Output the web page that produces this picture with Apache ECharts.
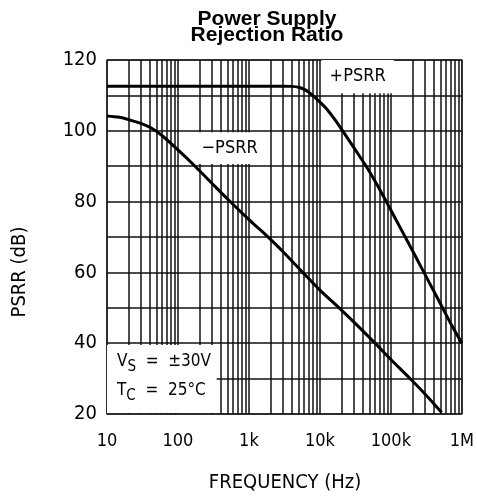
<!DOCTYPE html>
<html>
<head>
<meta charset="utf-8">
<script src="https://cdn.jsdelivr.net/npm/echarts@6/dist/echarts.min.js"></script>
<style>
  html, body { margin: 0; padding: 0; background: #fff; }
  #chart { width: 477px; height: 497px; }
</style>
</head>
<body>
<div id="chart"></div>
<script>
// values (frequency in Hz, PSRR in dB)
const plusFreq = [10, 100, 1000, 3000, 4000, 5000, 6300, 7900, 10000, 12800, 15800, 20900, 31600, 45700, 63000, 85100, 120000, 162000, 220000, 292000, 400000, 525000, 700000, 1000000];
const plusPsrr = [112.6, 112.6, 112.6, 112.6, 112.55, 112.3, 111.5, 110, 108.1, 105.9, 103.5, 100, 94.6, 89.7, 85.0, 80.2, 74.6, 69.7, 64.7, 60, 54.8, 50.3, 45.5, 40];

const minusFreq = [10, 15, 21, 30, 42.7, 60, 100, 174, 300, 525, 1000, 1450, 1945, 3000, 5715, 10000, 19770, 35000, 61240, 100000, 190500, 300000, 519000];
const minusPsrr = [104.2, 103.8, 103.05, 102.1, 100.7, 98.6, 94.6, 90, 85.2, 80.3, 74.9, 72.0, 69.6, 65.9, 60, 55.0, 49.5, 44.7, 39.8, 35.4, 29.8, 25.7, 20.4];

const freqTicks = [10, 100, 1000, 10000, 100000, 1000000];
const freqTickLabels = ['10', '100', '1k', '10k', '100k', '1M'];
const dbLabelStep = 20;

const font = "'DejaVu Sans Condensed', 'DejaVu Sans', sans-serif";

// minor log grid lines: 2..9 of each decade
const minorLines = [];
for (let i = 0; i < freqTicks.length - 1; i++) {
  for (let m = 2; m <= 9; m++) minorLines.push({ xAxis: freqTicks[i] * m });
}

const chart = echarts.init(document.getElementById('chart'));

const option = {
  animation: false,
  backgroundColor: '#fff',
  grid: {
    left: 107, right: 14, top: 60, bottom: 83,
    show: true, borderColor: '#666', borderWidth: 1.5
  },
  graphic: [
    {
      type: 'text', x: 267, y: 11,
      style: {
        text: 'Power Supply\nRejection Ratio',
        font: 'bold 21px "Liberation Sans", Arial, sans-serif',
        fill: '#000', align: 'center', verticalAlign: 'top', lineHeight: 16
      }
    },
    {
      type: 'text', x: 20, y: 272, rotation: Math.PI / 2,
      style: {
        text: 'PSRR (dB)', font: '20px ' + font, fill: '#000',
        align: 'center', verticalAlign: 'middle'
      }
    },
    {
      type: 'text', x: 285, y: 483,
      style: {
        text: 'FREQUENCY (Hz)', font: '20px ' + font, fill: '#000',
        align: 'center', verticalAlign: 'middle'
      }
    }
  ],
  xAxis: {
    type: 'log', logBase: 10, min: 10, max: 1000000,
    axisLine: { show: false },
    axisTick: { show: false },
    axisLabel: {
      margin: 18, fontSize: 18, fontFamily: font, color: '#000',
      formatter: v => {
        const i = freqTicks.findIndex(t => Math.abs(t - v) / t < 1e-6);
        return i >= 0 ? freqTickLabels[i] : '';
      }
    },
    splitLine: { show: true, lineStyle: { color: '#111', width: 1.5 } }
  },
  yAxis: {
    type: 'value', min: 20, max: 120, interval: 10,
    axisLine: { show: false },
    axisTick: { show: false },
    axisLabel: {
      margin: 10, fontSize: 20, fontFamily: font, color: '#000',
      formatter: v => (v % dbLabelStep === 0 ? String(v) : '')
    },
    splitLine: { show: true, lineStyle: { color: '#111', width: 1.5 } }
  },
  series: [
    {
      // minor frequency grid
      type: 'line', data: [], silent: true,
      markLine: {
        silent: true, symbol: 'none', z: 0,
        label: { show: false },
        lineStyle: { color: '#111', width: 1.5, type: 'solid' },
        data: minorLines
      }
    },
    {
      // white label boxes over the grid
      type: 'line', data: [], silent: true,
      markArea: {
        silent: true, z: 2,
        itemStyle: { color: '#fff' },
        label: { color: '#000', fontFamily: font },
        data: [
          [{ name: '+PSRR', coord: [10500, 110.6],
             label: { position: 'inside', fontSize: 18 } },
           { coord: [110000, 120] }],
          [{ name: '\u2212PSRR', coord: [190, 90.6],
             label: { position: 'inside', fontSize: 18 } },
           { coord: [1500, 99.6] }],
          [{ name: 'cond', coord: [10, 20.3],
             label: {
               position: 'insideLeft', distance: 10, offset: [0, -3],
               formatter: '{t|V}{s|S}{t|  =  \u00b130V}\n{t|T}{s|C}{t|  =  25\u00b0C}',
               rich: {
                 t: { fontSize: 17, fontFamily: font, color: '#000', lineHeight: 29 },
                 s: { fontSize: 15, fontFamily: font, color: '#000', lineHeight: 29, padding: [12, 0, 0, 0] }
               }
             } },
           { coord: [350, 39.5] }]
        ]
      }
    },
    {
      name: '+PSRR', type: 'line', z: 3, smooth: 0.3, symbol: 'none',
      lineStyle: { color: '#000', width: 3 },
      data: plusFreq.map((f, i) => [f, plusPsrr[i]])
    },
    {
      name: '-PSRR', type: 'line', z: 3, smooth: 0.3, symbol: 'none',
      lineStyle: { color: '#000', width: 3 },
      data: minusFreq.map((f, i) => [f, minusPsrr[i]])
    }
  ]
};

chart.setOption(option);
</script>
</body>
</html>
